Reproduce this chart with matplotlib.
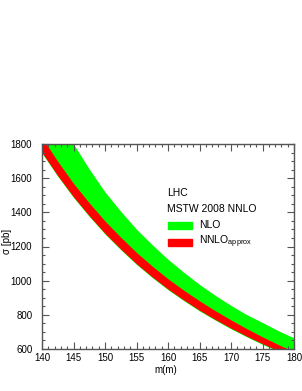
import matplotlib
matplotlib.use("Agg")
import matplotlib.pyplot as plt
from matplotlib.patches import Rectangle
from matplotlib.ticker import MultipleLocator

plt.rcParams['font.family'] = ['Liberation Sans', 'DejaVu Sans']

# Data (band edges, pb)
mass = [140, 142.5, 145, 147.5, 150, 152.5, 155, 157.5, 160,
        162.5, 165, 167.5, 170, 172.5, 175, 177.5, 180]
nlo_upper = [2155, 1969, 1800, 1653, 1519, 1406, 1301, 1210, 1125,
             1049, 978, 914, 855, 801, 755, 707, 665]
nlo_lower = [1746, 1611, 1487, 1376, 1273, 1181, 1095, 1018, 947,
             883, 823, 769, 718, 671, 627, 586, 547]
nnlo_upper = [1838, 1698, 1569, 1455, 1349, 1254, 1165, 1085, 1011,
              944, 882, 824, 770, 719, 671, 626, 584]
nnlo_lower = [1750, 1615, 1491, 1380, 1277, 1185, 1099, 1022, 951,
              887, 827, 773, 722, 675, 631, 590, 551]

W, H = 302, 391
fig = plt.figure(figsize=(W / 100, H / 100), dpi=100)
L, R, T, B = 42, 294, 144, 349
ax = fig.add_axes([L / W, 1 - B / H, (R - L) / W, (B - T) / H])

ax.fill_between(mass, nlo_lower, nlo_upper, color='#00ff00', linewidth=0)
ax.fill_between(mass, nnlo_lower, nnlo_upper, color='#ff0000', linewidth=0)

ax.set_xlim(140, 180)
ax.set_ylim(600, 1800)
ax.xaxis.set_major_locator(MultipleLocator(5))
ax.xaxis.set_minor_locator(MultipleLocator(1))
ax.yaxis.set_major_locator(MultipleLocator(200))
ax.yaxis.set_minor_locator(MultipleLocator(50))

spc = '#555555'
for s in ax.spines.values():
    s.set_color(spc)
    s.set_linewidth(1.0)
ax.tick_params(which='both', direction='in', top=True, right=True, colors=spc,
               labelcolor='black', labelsize=7)
ax.tick_params(which='major', length=5, width=0.8)
ax.tick_params(which='minor', length=2.5, width=0.8)
ax.tick_params(axis='y', which='both', pad=7)
ax.tick_params(axis='x', which='both', pad=3)

def fx(px):
    return px / W

def fy(py):
    return 1 - py / H

fig.text(fx(166), fy(370), 'm(m)', fontsize=7, ha='center', va='center')
fig.text(fx(7), fy(241), 'σ [pb]', fontsize=7, ha='center', va='center', rotation=90)

fig.text(fx(167), fy(193), 'LHC', fontsize=7.5, ha='left', va='center')
fig.text(fx(167), fy(209), 'MSTW 2008 NNLO', fontsize=7.5, ha='left', va='center')
fig.patches.append(Rectangle((fx(168), fy(228.5)), fx(192) - fx(168), fy(221.5) - fy(228.5),
                             transform=fig.transFigure, color='#00ff00', figure=fig))
fig.patches.append(Rectangle((fx(168), fy(245.5)), fx(192) - fx(168), fy(238.5) - fy(245.5),
                             transform=fig.transFigure, color='#ff0000', figure=fig))
fig.text(fx(199), fy(225), 'NLO', fontsize=7.5, ha='left', va='center')
fig.text(fx(199), fy(242), r'NNLO$_{\mathregular{approx}}$', fontsize=7.5, ha='left', va='center')

fig.savefig('out.png', dpi=100)
